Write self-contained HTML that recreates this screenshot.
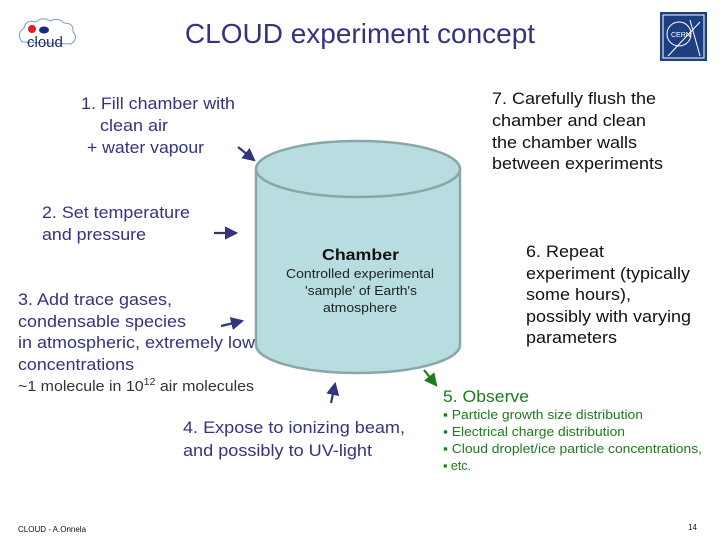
<!DOCTYPE html>
<html><head><meta charset="utf-8"><style>
body{margin:0;background:#fff}
svg text{font-family:"Liberation Sans",Arial,sans-serif}
</style></head><body>
<svg width="720" height="540" viewBox="0 0 720 540" xmlns="http://www.w3.org/2000/svg">
<defs>
<marker id="ab" markerWidth="6" markerHeight="6" refX="5" refY="3" orient="auto"><path d="M0,0 L6,3 L0,6 z" fill="#333380"/></marker>
<marker id="ag" markerWidth="6" markerHeight="6" refX="5" refY="3" orient="auto"><path d="M0,0 L6,3 L0,6 z" fill="#1e7a1e"/></marker>
</defs>
<path d="M22,42 q-6,-8 2,-14 q2,-9 12,-6 q6,-6 14,-1 q8,-4 14,2 q10,0 9,9 q6,6 -2,12 z" fill="#fff" stroke="#7a9ad0" stroke-width="1"/>
<circle cx="32" cy="29" r="4" fill="#e02020"/>
<ellipse cx="44" cy="30" rx="5" ry="3.5" fill="#1a2a80"/>
<text x="27" y="47" font-size="15" fill="#1a2a60">cloud</text>
<text x="360" y="43" font-size="28" fill="#333380" text-anchor="middle">CLOUD experiment concept</text>
<rect x="660" y="12" width="47" height="49" fill="#1d3f82"/>
<rect x="663" y="15" width="41" height="43" fill="none" stroke="#fff" stroke-width="1"/>
<circle cx="679" cy="34" r="12" fill="none" stroke="#fff" stroke-width="1"/>
<text x="671" y="37" font-size="7" fill="#fff">CERN</text>
<path d="M690,20 L700,56 M668,56 L700,22" stroke="#fff" stroke-width="1"/>
<path d="M256,169 L256,345 A102,28 0 0 0 460,345 L460,169 Z" fill="#b8dde0" stroke="#8aa7a8" stroke-width="2.5"/>
<ellipse cx="358" cy="169" rx="102" ry="28" fill="#b8dde0" stroke="#8aa7a8" stroke-width="2.5"/>
<text x="322" y="260" font-size="16" font-weight="bold" fill="#111" textLength="77" lengthAdjust="spacingAndGlyphs">Chamber</text>
<text x="286" y="278" font-size="13" fill="#222" textLength="148" lengthAdjust="spacingAndGlyphs">Controlled experimental</text>
<text x="305" y="295" font-size="13" fill="#222" textLength="112" lengthAdjust="spacingAndGlyphs">'sample' of Earth's</text>
<text x="323" y="312" font-size="13" fill="#222" textLength="74" lengthAdjust="spacingAndGlyphs">atmosphere</text>
<g font-size="17" fill="#333380" lengthAdjust="spacingAndGlyphs">
<text x="81" y="109" textLength="154" lengthAdjust="spacingAndGlyphs">1. Fill chamber with</text>
<text x="100" y="131" textLength="68" lengthAdjust="spacingAndGlyphs">clean air</text>
<text x="87" y="153" textLength="117" lengthAdjust="spacingAndGlyphs">+ water vapour</text>
<text x="42" y="218" textLength="148" lengthAdjust="spacingAndGlyphs">2. Set temperature</text>
<text x="42" y="240" textLength="104" lengthAdjust="spacingAndGlyphs">and pressure</text>
<text x="18" y="305" textLength="154" lengthAdjust="spacingAndGlyphs">3. Add trace gases,</text>
<text x="18" y="327" textLength="168" lengthAdjust="spacingAndGlyphs">condensable species</text>
<text x="18" y="348" textLength="237" lengthAdjust="spacingAndGlyphs">in atmospheric, extremely low</text>
<text x="18" y="370" textLength="116" lengthAdjust="spacingAndGlyphs">concentrations</text>
<text x="183" y="433" textLength="222" lengthAdjust="spacingAndGlyphs">4. Expose to ionizing beam,</text>
<text x="183" y="456" textLength="189" lengthAdjust="spacingAndGlyphs">and possibly to UV-light</text>
</g>
<text x="18" y="391" font-size="15" fill="#333" textLength="236" lengthAdjust="spacingAndGlyphs">~1 molecule in 10<tspan font-size="10" dy="-6">12</tspan><tspan dy="6"> air molecules</tspan></text>
<g font-size="17" fill="#111">
<text x="492" y="104" textLength="164" lengthAdjust="spacingAndGlyphs">7. Carefully flush the</text>
<text x="492" y="126" textLength="154" lengthAdjust="spacingAndGlyphs">chamber and clean</text>
<text x="492" y="148" textLength="145" lengthAdjust="spacingAndGlyphs">the chamber walls</text>
<text x="492" y="169" textLength="171" lengthAdjust="spacingAndGlyphs">between experiments</text>
<text x="526" y="257" textLength="78" lengthAdjust="spacingAndGlyphs">6. Repeat</text>
<text x="526" y="279" textLength="164" lengthAdjust="spacingAndGlyphs">experiment (typically</text>
<text x="526" y="300" textLength="105" lengthAdjust="spacingAndGlyphs">some hours),</text>
<text x="526" y="322" textLength="165" lengthAdjust="spacingAndGlyphs">possibly with varying</text>
<text x="526" y="343" textLength="91" lengthAdjust="spacingAndGlyphs">parameters</text>
</g>
<text x="443" y="402" font-size="17" fill="#1e7a1e" textLength="86" lengthAdjust="spacingAndGlyphs">5. Observe</text>
<g font-size="13" fill="#1e7a1e">
<text x="443" y="419" textLength="200" lengthAdjust="spacingAndGlyphs">▪ Particle growth size distribution</text>
<text x="443" y="436" textLength="182" lengthAdjust="spacingAndGlyphs">▪ Electrical charge distribution</text>
<text x="443" y="453" textLength="259" lengthAdjust="spacingAndGlyphs">▪ Cloud droplet/ice particle concentrations,</text>
<text x="443" y="470" textLength="28" lengthAdjust="spacingAndGlyphs">▪ etc.</text>
</g>
<g stroke="#333380" stroke-width="2.2" fill="none">
<line x1="238" y1="147" x2="254" y2="160" marker-end="url(#ab)"/>
<line x1="214" y1="233" x2="236" y2="233" marker-end="url(#ab)"/>
<line x1="221" y1="326" x2="242" y2="321" marker-end="url(#ab)"/>
<line x1="331" y1="403" x2="335" y2="384" marker-end="url(#ab)"/>
</g>
<line x1="424" y1="370" x2="436" y2="385" stroke="#1e7a1e" stroke-width="2.2" marker-end="url(#ag)"/>
<text x="18" y="532" font-size="8" fill="#111">CLOUD - A.Onnela</text>
<text x="697" y="530" font-size="8" fill="#111" text-anchor="end">14</text>
</svg>
</body></html>
